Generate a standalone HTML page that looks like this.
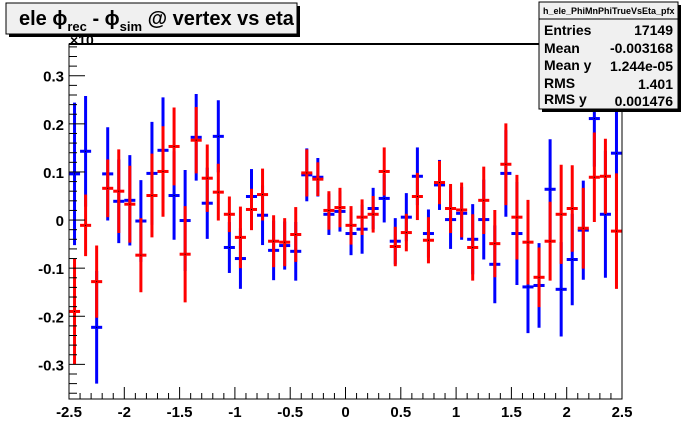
<!DOCTYPE html>
<html><head><meta charset="utf-8"><style>
body{margin:0;background:#fff;}
svg{display:block;font-family:"Liberation Sans",sans-serif;}
</style></head><body>
<svg id="chart" width="692" height="444" viewBox="0 0 692 444">
<rect x="0" y="0" width="692" height="444" fill="#ffffff"/>
<g id="marks"></g>
<g id="axes"></g>
<text x="70" y="45" font-size="14" font-weight="bold">×10</text>
<g>
<rect x="9" y="6" width="291" height="31" fill="#000"/>
<rect x="6" y="3" width="291" height="31" fill="#f0f0f0" stroke="#000" stroke-width="1"/>
<text x="19" y="25" font-size="20" font-weight="bold">ele ϕ<tspan font-size="13" dy="6">rec</tspan><tspan dy="-6"> - ϕ</tspan><tspan font-size="13" dy="6">sim</tspan><tspan dy="-6"> @ vertex vs eta</tspan></text>
</g>
<g>
<rect x="542" y="5" width="139" height="107" fill="#000"/>
<rect x="539" y="2" width="139" height="107" fill="#f0f0f0" stroke="#000" stroke-width="1"/>
<line x1="539" y1="19" x2="678" y2="19" stroke="#000" stroke-width="1"/>
<text x="543" y="14" font-size="9" font-weight="bold">h_ele_PhiMnPhiTrueVsEta_pfx</text>
<g font-size="14" font-weight="bold">
<text x="544" y="35">Entries</text><text x="673" y="35" text-anchor="end">17149</text>
<text x="544" y="53">Mean</text><text x="673" y="53" text-anchor="end">-0.003168</text>
<text x="544" y="70">Mean y</text><text x="673" y="71" text-anchor="end">1.244e-05</text>
<text x="544" y="88">RMS</text><text x="673" y="89" text-anchor="end">1.401</text>
<text x="544" y="104">RMS y</text><text x="673" y="106" text-anchor="end">0.001476</text>
</g>
</g>
</svg>
<script>
const xTicks = [-2.5,-2,-1.5,-1,-0.5,0,0.5,1,1.5,2,2.5];
const xTickLabels = ["-2.5","-2","-1.5","-1","-0.5","0","0.5","1","1.5","2","2.5"];
const yTicks = [-0.3,-0.2,-0.1,0,0.1,0.2,0.3];
const yTickLabels = ["-0.3","-0.2","-0.1","0","0.1","0.2","0.3"];
const binCenters = [-2.45,-2.35,-2.25,-2.15,-2.05,-1.95,-1.85,-1.75,-1.65,-1.55,-1.45,-1.35,-1.25,-1.15,-1.05,-0.95,-0.85,-0.75,-0.65,-0.55,-0.45,-0.35,-0.25,-0.15,-0.05,0.05,0.15,0.25,0.35,0.45,0.55,0.65,0.75,0.85,0.95,1.05,1.15,1.25,1.35,1.45,1.55,1.65,1.75,1.85,1.95,2.05,2.15,2.25,2.35,2.45];
const blueMean = [0.096,0.143,-0.223,0.096,0.039,0.041,-0.002,0.097,0.145,0.051,-0.001,0.172,0.035,0.174,-0.057,-0.08,0.049,0.01,-0.063,-0.053,-0.065,0.094,0.089,0.012,0.018,-0.028,-0.019,0.024,0.045,-0.044,0.006,0.091,-0.028,0.073,0.001,0.014,-0.04,0.001,-0.092,0.097,-0.028,-0.139,-0.136,0.064,-0.144,-0.082,-0.021,0.211,0.012,0.139];
const blueErr = [0.148,0.115,0.117,0.097,0.087,0.094,0.085,0.107,0.11,0.092,0.105,0.09,0.074,0.075,0.053,0.063,0.057,0.062,0.062,0.05,0.061,0.055,0.04,0.043,0.042,0.045,0.051,0.043,0.05,0.048,0.05,0.06,0.05,0.052,0.061,0.055,0.073,0.083,0.081,0.09,0.107,0.096,0.088,0.104,0.098,0.095,0.103,0.1,0.132,0.12];
const redMean = [-0.19,-0.011,-0.128,0.066,0.06,0.033,-0.073,0.051,0.101,0.153,-0.071,0.166,0.087,0.058,0.012,-0.036,0.022,0.053,-0.044,-0.046,-0.03,0.098,0.085,0.02,0.026,-0.011,0.006,0.012,0.101,-0.055,-0.026,0.049,-0.042,0.078,0.024,0.021,-0.057,0.041,-0.049,0.116,0.006,-0.046,-0.119,-0.044,0.012,0.024,-0.017,0.089,0.091,-0.023];
const redErr = [0.11,0.064,0.075,0.06,0.087,0.08,0.077,0.087,0.094,0.081,0.1,0.069,0.07,0.059,0.037,0.064,0.043,0.054,0.054,0.05,0.057,0.049,0.035,0.04,0.041,0.04,0.037,0.038,0.05,0.041,0.039,0.049,0.048,0.045,0.051,0.057,0.069,0.07,0.07,0.085,0.088,0.088,0.062,0.082,0.103,0.09,0.084,0.093,0.078,0.12];

const X0=69, X1=622, Y0=399, Y1=44, XMIN=-2.5, XMAX=2.5, YMIN=-0.372, YMAX=0.366;
const NS="http://www.w3.org/2000/svg";
function sx(v){return X0+(v-XMIN)/(XMAX-XMIN)*(X1-X0);}
function sy(v){return Y0-(v-YMIN)/(YMAX-YMIN)*(Y0-Y1);}
function mk(tag,attrs,parent){const e=document.createElementNS(NS,tag);for(const k in attrs)e.setAttribute(k,attrs[k]);parent.appendChild(e);return e;}
const marks=document.getElementById('marks');
const axes=document.getElementById('axes');
const hw=(sx(0.1)-sx(0))/2;
function drawSeries(means,errs,color,name){
  const g=mk('g',{},marks);
  
  
  for(let i=0;i<binCenters.length;i++){
    const cx=sx(binCenters[i]), cy=sy(means[i]);
    const top=Math.max(Y1,sy(means[i]+errs[i])), bot=Math.min(Y0,sy(means[i]-errs[i]));
    const v=mk('line',{x1:cx,x2:cx,y1:top,y2:bot,stroke:color,'stroke-width':3},g);
    
    
    const h=mk('line',{x1:cx-hw,x2:cx+hw,y1:cy,y2:cy,stroke:color,'stroke-width':3},g);
    
    
    const d=mk('rect',{x:cx-0.5,y:cy-0.5,width:1,height:1,fill:'#000'},g);
    
    
  }
}
drawSeries(blueMean,blueErr,'#0000ff','blue-series');
drawSeries(redMean,redErr,'#ff0000','red-series');
const fr=mk('rect',{x:X0,y:Y1,width:X1-X0,height:Y0-Y1,fill:'none',stroke:'#000','stroke-width':1},axes);


const tl=mk('line',{x1:X0,x2:X1,y1:Y1,y2:Y1,stroke:'#000','stroke-width':2},axes);


for(let v=-2.5;v<=2.5001;v+=0.1){
  const r=Math.round(v*10)/10; const major=Math.abs(r*2-Math.round(r*2))<1e-6;
  const t=mk('line',{x1:sx(r),x2:sx(r),y1:Y0,y2:Y0-(major?12:6),stroke:'#000','stroke-width':1},axes);
  
  
}
for(let i=0;i<xTicks.length;i++){
  const t=mk('text',{x:sx(xTicks[i]),y:417,'text-anchor':'middle','font-size':15,'font-weight':'bold'},axes);
  t.textContent=xTickLabels[i];
  
  
}
for(let k=-18;k<=18;k++){
  const r=k*0.02; if(sy(r)>Y0||sy(r)<Y1) continue;
  const major=k%5===0;
  const t=mk('line',{x1:X0,x2:X0+(major?16:8),y1:sy(r),y2:sy(r),stroke:'#000','stroke-width':1},axes);
  
  
}
for(let i=0;i<yTicks.length;i++){
  const t=mk('text',{x:64,y:sy(yTicks[i])+6,'text-anchor':'end','font-size':15,'font-weight':'bold'},axes);
  t.textContent=yTickLabels[i];
  
  
}
</script>
</body></html>
